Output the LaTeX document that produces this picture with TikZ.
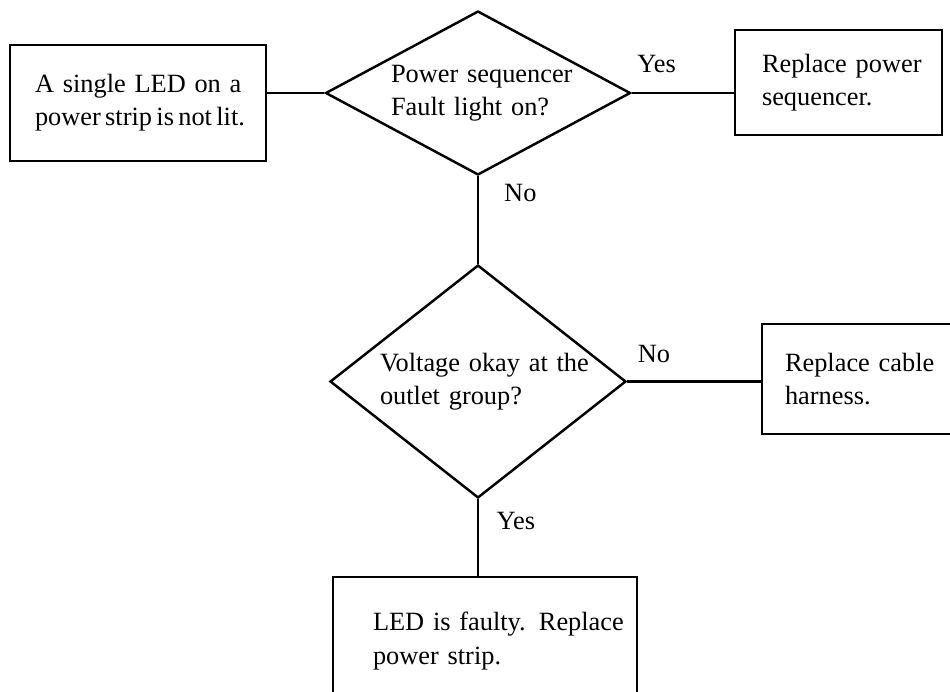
\documentclass[tikz,border=0pt]{standalone}
\usepackage{fontspec}
\setmainfont{Liberation Serif}
\usetikzlibrary{shapes.geometric}

\begin{document}
\begin{tikzpicture}[x=0.02cm, y=-0.02cm, line width=1.4pt,
        font=\fontsize{15}{18.8}\selectfont,
        stepbox/.style={draw, rectangle, inner sep=0pt, align=left},
        decision/.style={draw, diamond, inner sep=0pt, align=left},
        answer/.style={inner sep=0pt}]
        \useasboundingbox (0,0) rectangle (950,691);
        \clip (0,0) rectangle (950,691);

        % Start box
        \node[stepbox, minimum width=5.12cm, minimum height=2.32cm, text width=4.12cm]
            (led) at (138,103)
            {\makebox[4.3cm][s]{A single LED on a}\\
             \makebox[4.2cm][s]{\spaceskip=0.1em plus 1em minus 0.1em power strip is not lit.}};

        % First question
        \node[decision, minimum width=6.1cm, minimum height=3.28cm, aspect=1.86, text width=3.48cm]
            (fault) at (478,93)
            {\makebox[3.78cm][s]{Power sequencer}\\\mbox{Fault light on?}};

        % Replace sequencer
        \node[stepbox, minimum width=4.14cm, minimum height=2.1cm, text width=3.06cm]
            (seq) at (838.5,82.5)
            {\makebox[3.3cm][s]{Replace power}\\\mbox{sequencer.}};

        % Second question
        \node[decision, minimum width=5.92cm, minimum height=4.66cm, aspect=1.27, text width=3.92cm]
            (volt) at (478,381.5)
            {\mbox{Voltage okay at the}\\\mbox{outlet group?}};

        % Replace harness (runs off the right edge)
        \node[stepbox, minimum width=4cm, minimum height=2.2cm, text width=3.08cm]
            (harness) at (862,379)
            {\mbox{Replace cable}\\\mbox{harness.}};

        % Faulty LED (runs off the bottom edge)
        \node[stepbox, minimum width=6.08cm, minimum height=2.56cm, text width=4.48cm]
            (strip) at (485,641)
            {\makebox[5.04cm][s]{LED is faulty. Replace}\\\mbox{power strip.}};

        % Connectors
        \draw (fault.west) -- (fault.west -| led.east);
        \draw (fault.east) -- node[answer, above=0.385cm, pos=0.244] {Yes} (fault.east -| seq.west);
        \draw (fault.south) -- node[answer, right=0.5cm, pos=0.19] {No} (volt.north);
        \draw (volt.east) -- node[answer, above=0.355cm, pos=0.2] {No} (volt.east -| harness.west);
        \draw (volt.south) -- node[answer, right=0.35cm, pos=0.28] {Yes} (volt.south |- strip.north);

    \end{tikzpicture}
\end{document}
